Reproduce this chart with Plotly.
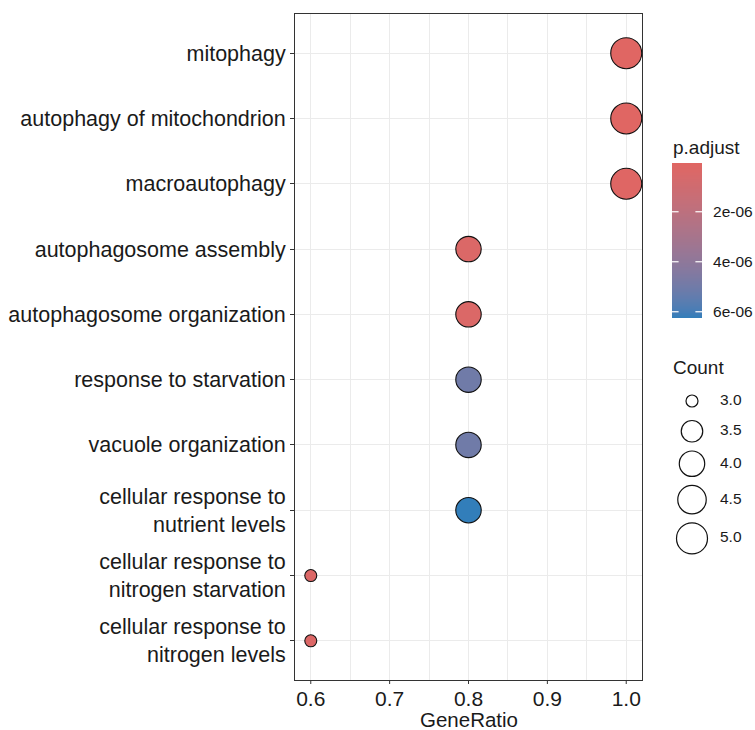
import numpy as np
import plotly.graph_objects as go

# ---- data -------------------------------------------------------------
terms = [
    "mitophagy",
    "autophagy of mitochondrion",
    "macroautophagy",
    "autophagosome assembly",
    "autophagosome organization",
    "response to starvation",
    "vacuole organization",
    "cellular response to<br>nutrient levels",
    "cellular response to<br>nitrogen starvation",
    "cellular response to<br>nitrogen levels",
]
gene_ratio = [1.0, 1.0, 1.0, 0.8, 0.8, 0.8, 0.8, 0.8, 0.6, 0.6]
gene_count = [5, 5, 5, 4, 4, 4, 4, 4, 3, 3]
p_adjust = [5.0e-8, 5.0e-8, 1.2e-7, 3.5e-7, 3.5e-7, 5.0e-6, 5.0e-6, 6.25e-6, 2.8e-7, 2.8e-7]

x_ticks = [0.6, 0.7, 0.8, 0.9, 1.0]
x_ticklabels = ["0.6", "0.7", "0.8", "0.9", "1.0"]
cbar_ticks = [2e-6, 4e-6, 6e-6]
cbar_ticklabels = ["2e-06", "4e-06", "6e-06"]
size_breaks = [3.0, 3.5, 4.0, 4.5, 5.0]
size_labels = ["3.0", "3.5", "4.0", "4.5", "5.0"]

# ---- styling ----------------------------------------------------------
W, H = 755, 730
FONT = "Liberation Sans, Arial, Helvetica, sans-serif"
TXT = "#1a1a1a"
AXIS_COL = "#333333"
LOW_COL, HIGH_COL = "#e06663", "#327eba"
D_MIN, D_MAX = 13.0, 32.0
TICK_LEN = 4

# panel and legend boxes in pixels (left, top, right, bottom)
PANEL = (295, 14, 642, 680)
CBAR = (672, 163, 702, 318)
SIZE_BOX = (660, 380, 755, 560)


def xdom(l, r):
    return [l / W, r / W]


def ydom(t, b):
    return [1 - b / H, 1 - t / H]


# ---- colour ramp interpolated in CIELAB ---------------------------------
def hex_to_rgb(h):
    h = h.lstrip("#")
    return np.array([int(h[i:i + 2], 16) for i in (0, 2, 4)], float) / 255


M = np.array([[0.4124564, 0.3575761, 0.1804375],
              [0.2126729, 0.7151522, 0.0721750],
              [0.0193339, 0.1191920, 0.9503041]])
WHITE = np.array([0.95047, 1.0, 1.08883])


def rgb_to_lab(c):
    lin = np.where(c <= 0.04045, c / 12.92, ((c + 0.055) / 1.055) ** 2.4)
    xyz = M @ lin / WHITE
    f = np.where(xyz > 216 / 24389, np.cbrt(xyz), (24389 / 27 * xyz + 16) / 116)
    return np.array([116 * f[1] - 16, 500 * (f[0] - f[1]), 200 * (f[1] - f[2])])


def lab_to_rgb(lab):
    L, a, b = lab
    fy = (L + 16) / 116
    fx = fy + a / 500
    fz = fy - b / 200
    f = np.array([fx, fy, fz])
    xyz = np.where(f ** 3 > 216 / 24389, f ** 3, (116 * f - 16) / (24389 / 27)) * WHITE
    lin = np.linalg.solve(M, xyz)
    c = np.where(lin <= 0.0031308, 12.92 * lin, 1.055 * np.clip(lin, 0, None) ** (1 / 2.4) - 0.055)
    c = np.clip(c, 0, 1)
    return "rgb({:.0f},{:.0f},{:.0f})".format(*(c * 255))


lab_lo, lab_hi = rgb_to_lab(hex_to_rgb(LOW_COL)), rgb_to_lab(hex_to_rgb(HIGH_COL))
colorscale = [[t, lab_to_rgb(lab_lo + (lab_hi - lab_lo) * t)] for t in np.linspace(0, 1, 21)]

p_min, p_max = min(p_adjust), max(p_adjust)
c_min, c_max = min(gene_count), max(gene_count)


def diameter(c):
    return D_MIN + (D_MAX - D_MIN) * np.sqrt((np.asarray(c, float) - c_min) / (c_max - c_min))


fig = go.Figure()

# ---- dot plot -----------------------------------------------------------
fig.add_trace(go.Scatter(
    x=gene_ratio, y=terms, mode="markers",
    marker=dict(
        size=diameter(gene_count) - 1,
        color=p_adjust, cmin=p_min, cmax=p_max,
        colorscale=colorscale, showscale=False, opacity=1,
        line=dict(color="#111111", width=1.1),
    ),
    opacity=1,
    xaxis="x", yaxis="y", showlegend=False, hoverinfo="x+y",
))

# ---- p.adjust colour bar (low values on top) -----------------------------
bar_vals = np.linspace(p_min, p_max, 200)
fig.add_trace(go.Heatmap(
    z=bar_vals.reshape(-1, 1), x=[0.5], y=bar_vals,
    zmin=p_min, zmax=p_max, colorscale=colorscale, showscale=False,
    zsmooth="best", xaxis="x3", yaxis="y3", hoverinfo="skip",
))
shapes = []
for v in cbar_ticks:
    for x0, x1 in ((0.0, 0.22), (0.78, 1.0)):
        shapes.append(dict(type="line", xref="x3", yref="y3", x0=x0, x1=x1, y0=v, y1=v,
                           line=dict(color="white", width=1.2)))

# outside tick marks under the x axis
y_axis_px = 1 - PANEL[3] / H
for v in x_ticks:
    shapes.append(dict(type="line", xref="x", yref="paper", x0=v, x1=v,
                       y0=y_axis_px, y1=y_axis_px - TICK_LEN / H,
                       line=dict(color=AXIS_COL, width=1)))

# ---- Count size legend ----------------------------------------------------
key_d = diameter(size_breaks)
key_h = np.maximum(30.0, key_d + 8)
key_top = 386.0
key_y = key_top + np.cumsum(key_h) - key_h / 2
fig.add_trace(go.Scatter(
    x=[692] * len(size_breaks), y=key_y, mode="markers",
    marker=dict(size=key_d - 1, color="white", opacity=1,
                line=dict(color="#111111", width=1.2)),
    xaxis="x4", yaxis="y4", showlegend=False, hoverinfo="skip",
))
fig.add_trace(go.Scatter(
    x=[720] * len(size_breaks), y=key_y, mode="text", text=size_labels,
    textposition="middle right", textfont=dict(family=FONT, size=15.5, color=TXT),
    xaxis="x4", yaxis="y4", showlegend=False, hoverinfo="skip",
))

# ---- axes -------------------------------------------------------------
hidden = dict(visible=False, showgrid=False, zeroline=False, fixedrange=True)
fig.update_layout(
    width=W, height=H,
    margin=dict(l=0, r=0, t=0, b=0),
    paper_bgcolor="white", plot_bgcolor="white",
    template="none",
    font=dict(family=FONT, color=TXT),
    xaxis=dict(
        domain=xdom(PANEL[0], PANEL[2]), anchor="y",
        range=[0.58, 1.02], tickvals=x_ticks, ticktext=x_ticklabels,
        tickfont=dict(size=21, color=TXT),
        ticks="", ticklen=0,
        showgrid=True, gridcolor="#ebebeb", gridwidth=1.3,
        minor=dict(dtick=0.05, tick0=0.55, showgrid=True, gridcolor="#ebebeb", gridwidth=0.7),
        showline=True, linecolor=AXIS_COL, linewidth=1, mirror=True,
        zeroline=False, automargin=False,
    ),
    yaxis=dict(
        domain=ydom(PANEL[1], PANEL[3]), anchor="x",
        type="category", categoryorder="array", categoryarray=terms,
        range=[len(terms) - 0.4, -0.6],
        tickfont=dict(size=21.5, color=TXT),
        ticks="outside", ticklen=TICK_LEN, tickwidth=1, tickcolor=AXIS_COL,
        showgrid=True, gridcolor="#ebebeb", gridwidth=1.3,
        showline=True, linecolor=AXIS_COL, linewidth=1, mirror=True,
        zeroline=False, automargin=False,
    ),
    xaxis3=dict(domain=xdom(CBAR[0], CBAR[2]), anchor="y3", range=[0, 1], **hidden),
    yaxis3=dict(
        domain=ydom(CBAR[1], CBAR[3]), anchor="x3", side="right",
        range=[p_max, p_min], tickvals=cbar_ticks, ticktext=cbar_ticklabels,
        tickfont=dict(size=15.5, color=TXT), ticks="outside", ticklen=7,
        tickcolor="rgba(0,0,0,0)", showgrid=False, zeroline=False, showline=False,
        fixedrange=True, automargin=False,
    ),
    xaxis4=dict(domain=xdom(SIZE_BOX[0], SIZE_BOX[2]), anchor="y4",
                range=[SIZE_BOX[0], SIZE_BOX[2]], **hidden),
    yaxis4=dict(domain=ydom(SIZE_BOX[1], SIZE_BOX[3]), anchor="x4",
                range=[SIZE_BOX[3], SIZE_BOX[1]], **hidden),
    shapes=shapes,
    annotations=[
        dict(text="GeneRatio", xref="paper", yref="paper",
             x=(PANEL[0] + PANEL[2]) / 2 / W, y=1 - 719 / H,
             xanchor="center", yanchor="middle", showarrow=False,
             font=dict(size=20.5, color=TXT)),
        dict(text="p.adjust", xref="paper", yref="paper",
             x=671 / W, y=1 - 147 / H, xanchor="left", yanchor="middle",
             showarrow=False, font=dict(size=19, color=TXT)),
        dict(text="Count", xref="paper", yref="paper",
             x=671 / W, y=1 - 367 / H, xanchor="left", yanchor="middle",
             showarrow=False, font=dict(size=19, color=TXT)),
    ],
)

fig.write_html("out.html")
